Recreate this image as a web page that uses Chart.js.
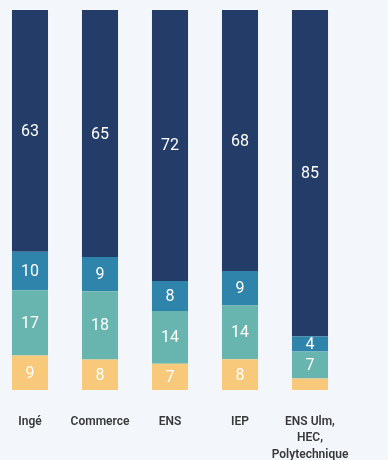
<!doctype html>
<html lang="fr">
<head>
<meta charset="utf-8">
<title>Répartition par filière</title>
<style>
  * { margin: 0; padding: 0; }
  body { width: 388px; height: 460px; background: #f3f6fa; overflow: hidden; position: relative; }
  .chartBox { position: absolute; left: -5px; top: 0; width: 393px; height: 460px; }
</style>
</head>
<body>
<div class="chartBox"><canvas id="myChart"></canvas></div>
<script src="https://cdn.jsdelivr.net/npm/chart.js/dist/chart.umd.min.js"></script>
<script>
// data, bottom to top
const categories = ['Ingé', 'Commerce', 'ENS', 'IEP', ['ENS Ulm,', 'HEC,', 'Polytechnique']];
const yellowVals = [9, 8, 7, 8, 3];
const tealVals = [17, 18, 14, 14, 7];
const blueVals = [10, 9, 8, 9, 4];
const navyVals = [63, 65, 72, 68, 85];

const colors = ['#f8c97a', '#68b5b0', '#2e84aa', '#243c68'];
const series = [yellowVals, tealVals, blueVals, navyVals];

// 100% stacked: each bar as share of its total
const totals = categories.map((c, i) => series.reduce((s, arr) => s + arr[i], 0));

const datasets = series.map((arr, k) => ({
  data: arr.map((v, i) => v / totals[i] * 100),
  raw: arr,
  backgroundColor: colors[k],
  borderWidth: 0,
  categoryPercentage: 1,
  barPercentage: 0.515
}));

// white value labels centred in segments
const valueLabels = {
  id: 'valueLabels',
  afterDatasetsDraw(chart) {
    const ctx = chart.ctx;
    ctx.save();
    ctx.fillStyle = '#ffffff';
    ctx.font = '16px "Liberation Sans Narrow", Roboto, sans-serif';
    ctx.textAlign = 'center';
    ctx.textBaseline = 'middle';
    chart.data.datasets.forEach((ds, di) => {
      chart.getDatasetMeta(di).data.forEach((bar, i) => {
        const v = ds.raw[i];
        if (v < 4) return;
        const cy = (bar.y + bar.base) / 2;
        ctx.fillText(String(v), bar.x, cy + 1);
      });
    });
    ctx.restore();
  }
};

new Chart(document.getElementById('myChart'), {
  type: 'bar',
  data: { labels: categories, datasets },
  options: {
    responsive: true,
    maintainAspectRatio: false,
    animation: false,
    layout: { padding: { top: 10, bottom: 0, left: 0, right: 43 } },
    plugins: { legend: { display: false }, tooltip: { enabled: false } },
    scales: {
      x: {
        stacked: true,
        grid: { display: false },
        border: { display: false },
        afterFit(scale) {
          scale.height = 70;
          scale.paddingLeft = 0;
          scale.paddingRight = 0;
        },
        ticks: {
          color: '#383838',
          padding: 16,
          maxRotation: 0,
          autoSkip: false,
          font: { family: 'Roboto', size: 12, weight: '600', lineHeight: 1.35 }
        }
      },
      y: {
        stacked: true,
        display: false,
        min: 0,
        max: 100
      }
    }
  },
  plugins: [valueLabels]
});
</script>
</body>
</html>
